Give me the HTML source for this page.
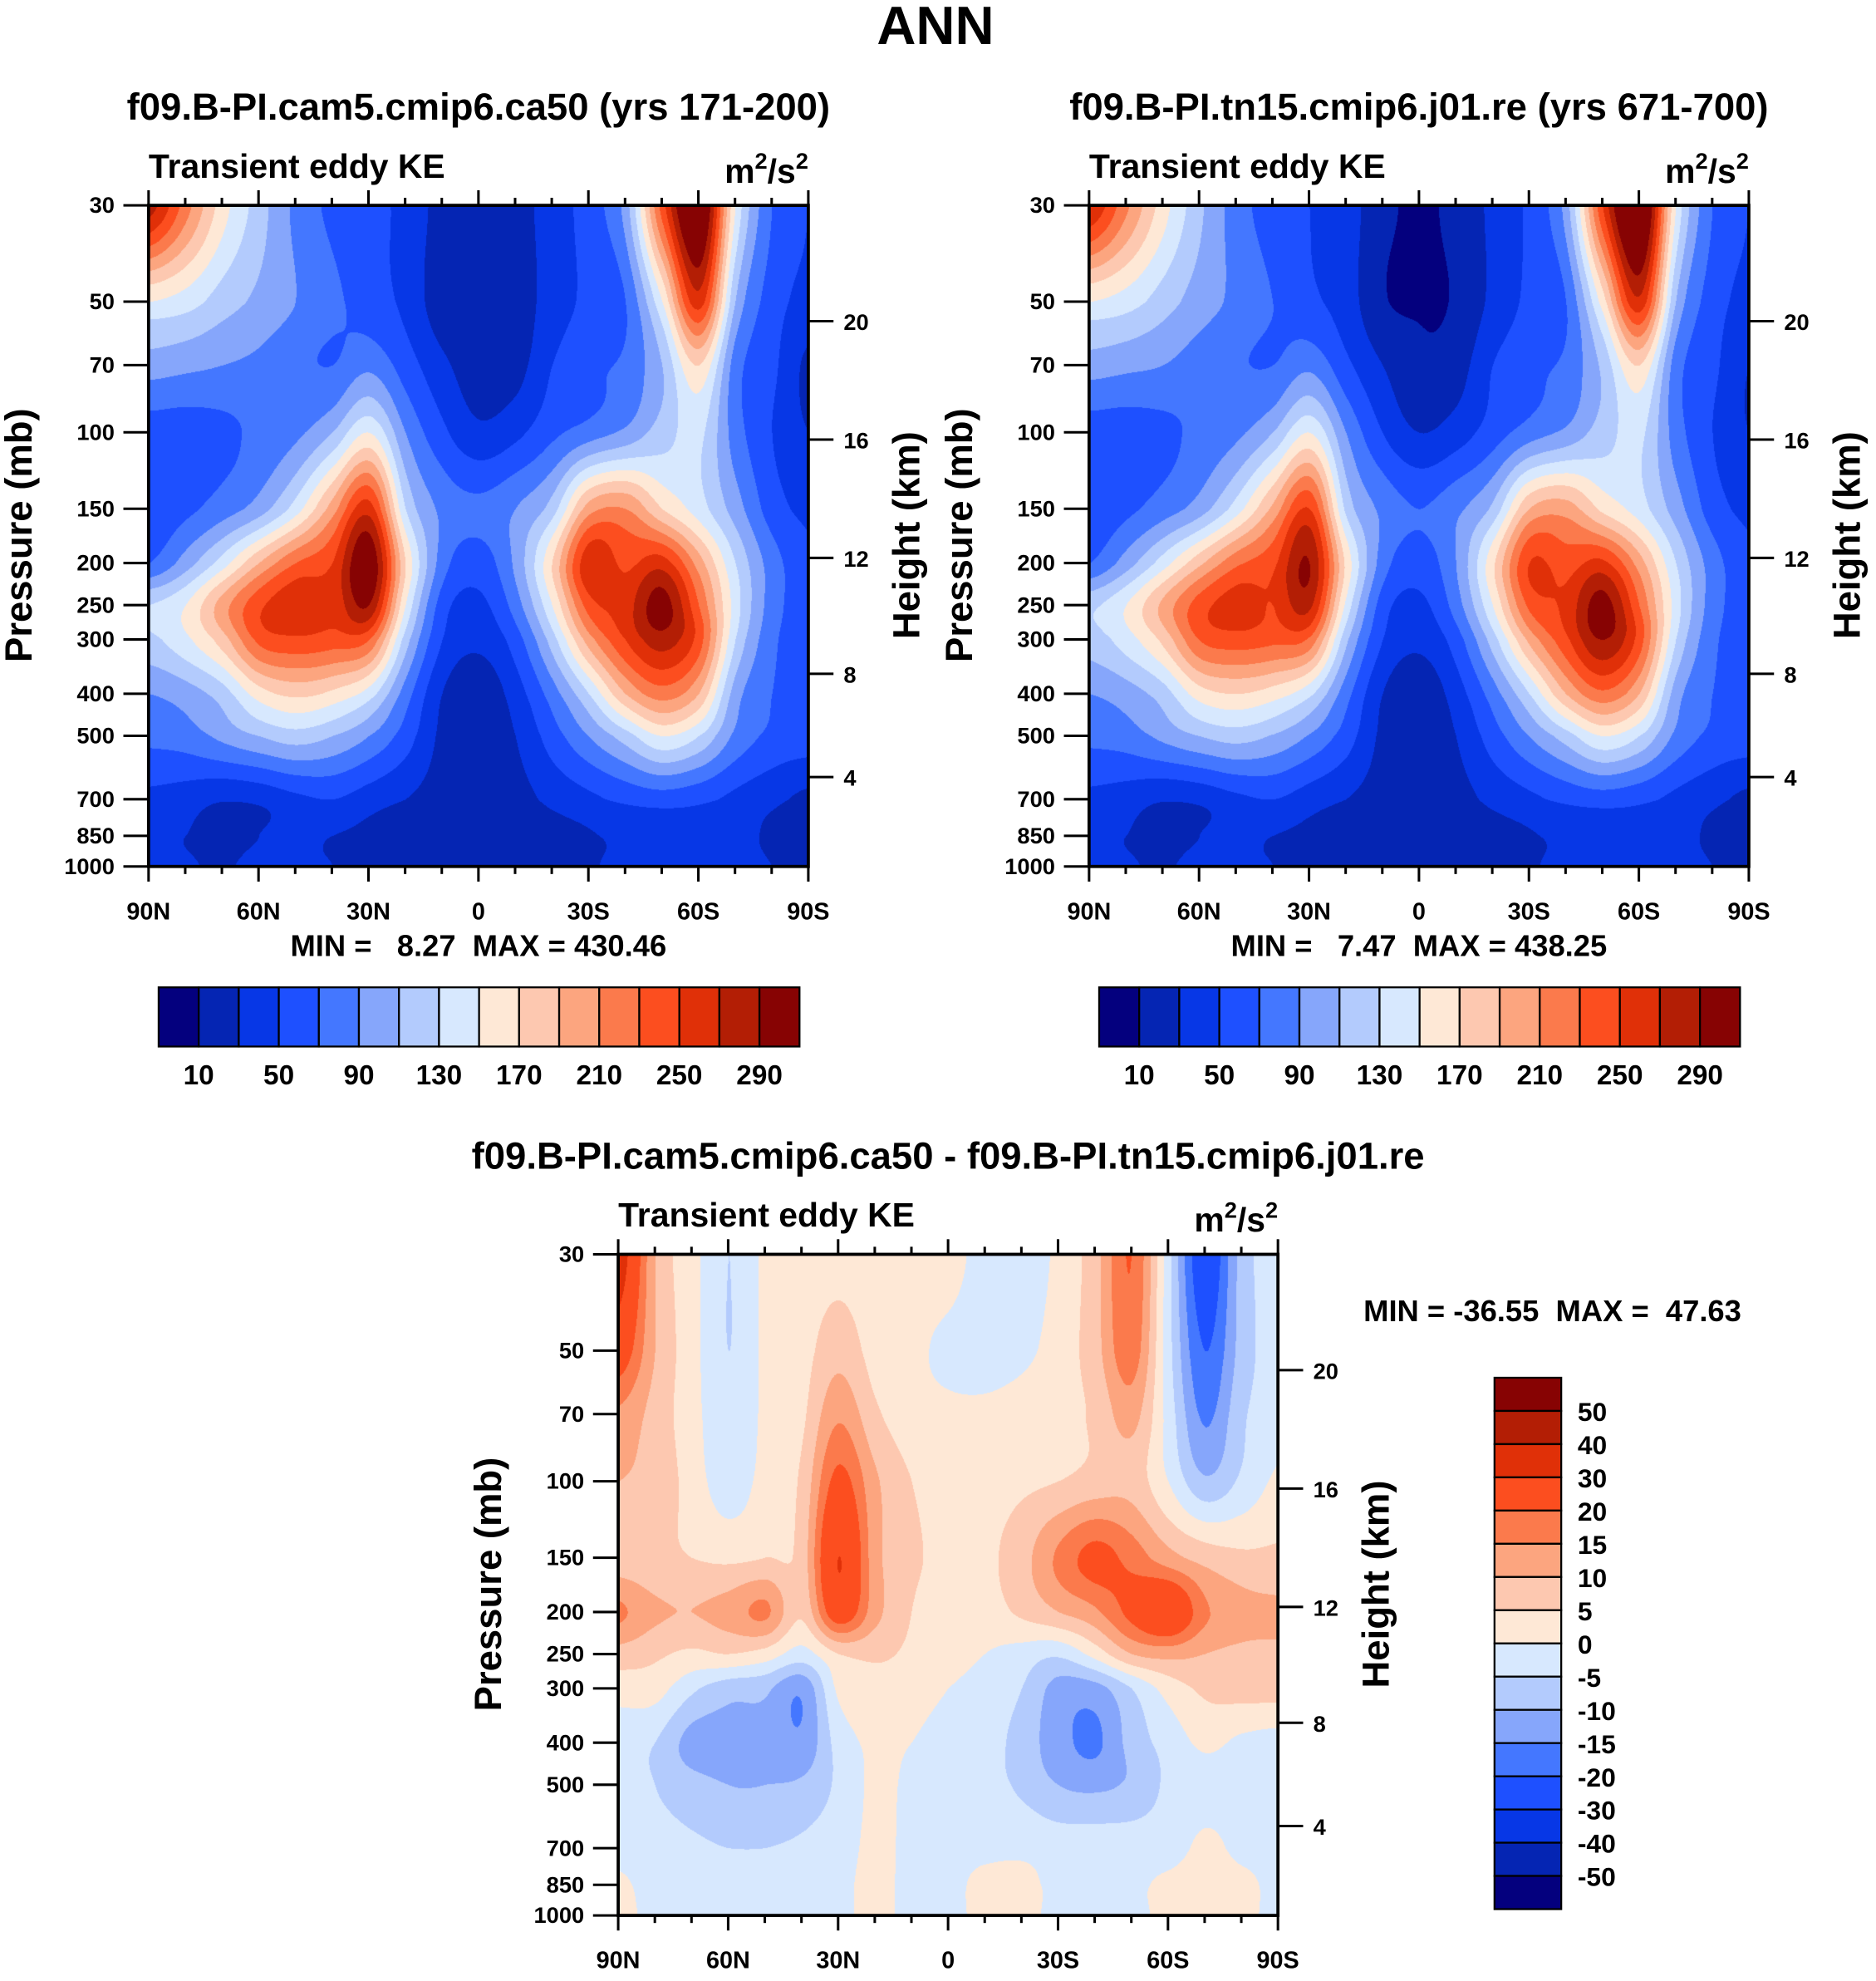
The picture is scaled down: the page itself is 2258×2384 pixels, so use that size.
<!DOCTYPE html>
<html><head><meta charset="utf-8">
<style>
html,body{margin:0;padding:0;background:#fff;}
#wrap{position:relative;width:2258px;height:2384px;overflow:hidden;}
canvas{position:absolute;}
svg{position:absolute;left:0;top:0;}
text{font-family:"Liberation Sans",Arial,sans-serif;font-weight:bold;fill:#000;white-space:pre;}
</style></head>
<body>
<div id="wrap">
<svg id="svg" width="2258" height="2384" viewBox="0 0 1490 1573"></svg>
</div>
<script>
const S = 2258/1490;
const lats = [90,80,70,60,50,40,30,20,10,0,-10,-20,-30,-40,-50,-60,-70,-80,-90];
const plevs = [30,50,70,100,150,200,250,300,400,500,700,850,1000];
const heightTicks = [20,16,12,8,4];
const heightOffsets = [92,186,280,372,454];
const colors = ["#04007e","#0525b3","#0737e6","#1e50ff","#4477ff","#86a6fb","#b3cbfd","#d7e8fe","#fee8d6","#fdc8b0","#fca57f","#fb7a4c","#fc4e1f","#e03008","#b31e05","#870303"];
const levelsA = [10,30,50,70,90,110,130,150,170,190,210,230,250,270,290];
const levelsD = [-50,-40,-30,-20,-15,-10,-5,0,5,10,15,20,30,40,50];
const cbLabelsA = ["10","50","90","130","170","210","250","290"];
const cbLabelsD = ["50","40","30","20","15","10","5","0","-5","-10","-15","-20","-30","-40","-50"];
const field1 = [
[280,220,160,120,85,65,55,45,22,18,22,40,60,100,240,330,150,70,50],
[150,140,120,105,90,75,60,45,18,14,18,40,55,70,150,260,110,60,45],
[100,95,90,85,75,70,85,60,35,18,22,50,65,75,110,170,80,55,25],
[60,60,65,75,85,110,150,90,55,35,45,65,80,95,120,135,80,50,30],
[55,65,80,100,140,200,260,130,85,75,90,120,200,210,170,140,100,60,45],
[70,100,140,190,230,250,310,170,80,60,95,170,265,245,260,200,130,80,55],
[130,150,200,245,265,255,290,150,60,45,80,150,240,260,300,230,140,80,60],
[125,145,180,235,245,240,230,120,50,35,60,120,200,250,280,240,130,75,60],
[90,100,120,160,175,165,140,80,30,15,40,80,130,190,220,190,100,70,60],
[75,80,95,110,120,110,90,60,25,12,30,60,90,120,150,130,85,65,60],
[45,40,32,35,45,50,40,30,20,15,22,35,45,55,60,55,45,35,25],
[35,30,25,30,35,30,25,15,12,12,15,22,28,35,40,45,40,25,20],
[35,32,28,35,32,30,22,15,12,12,15,22,28,35,40,42,40,30,20]];
const field2 = [
[270,215,160,115,80,60,50,40,15,8,15,35,55,100,250,340,150,70,50],
[150,140,120,100,85,70,55,40,12,9,12,35,55,70,160,265,110,60,45],
[100,95,90,80,72,70,85,55,30,14,20,50,65,75,115,170,80,55,30],
[60,60,65,75,85,110,150,90,50,30,40,60,80,95,120,135,80,50,30],
[55,65,80,100,140,195,250,125,85,70,85,115,190,200,165,140,100,60,45],
[70,100,140,185,225,245,290,165,80,60,90,165,250,240,255,200,130,80,55],
[125,150,195,240,260,250,275,145,60,45,80,150,235,255,300,230,140,80,60],
[120,140,175,230,240,235,225,115,50,35,60,120,195,245,290,240,130,75,60],
[90,100,120,160,170,160,135,78,30,15,40,80,130,190,225,190,100,70,60],
[75,80,95,110,118,108,88,60,25,12,30,60,90,120,150,130,85,65,60],
[45,40,32,35,45,50,40,30,20,15,22,35,45,55,60,55,45,35,25],
[35,30,25,30,35,30,25,15,12,12,15,22,28,35,40,45,40,25,20],
[35,32,28,35,32,30,22,15,12,12,15,22,28,35,40,42,40,30,20]];
const fieldD = [
[35,10,2,-5,1,2,3,2,2,2,-2,-2,1,8,20,-3,-25,-8,-2],
[25,10,2,-5,1,3,8,3,1,-1,-2,-1,2,8,18,-3,-20,-8,-2],
[14,8,2,-4,1,4,14,6,2,1,1,2,3,6,12,-2,-16,-6,-2],
[10,8,3,-3,2,6,22,11,5,3,3,4,5,7,8,0,-9,-4,1],
[7,6,5,4,5,7,30,12,6,4,4,8,16,22,18,12,8,6,6],
[16,11,10,12,16,6,25,12,5,3,3,6,10,14,22,28,16,12,11],
[8,6,4,5,3,-2,5,6,4,2,0,-2,-4,2,10,12,10,9,9],
[2,2,-4,-8,-9,-14,1,3,2,0,-2,-5,-12,-12,-5,2,6,7,7],
[-3,-5,-12,-12,-11,-14,-3,1,0,-2,-3,-7,-13,-16,-8,-3,1,-1,-2],
[-3,-5,-8,-10,-10,-9,-4,1,-1,-2,-3,-6,-10,-11,-9,-4,-2,-2,-2],
[-2,-3,-4,-5,-5,-4,-2,1,-1,-1,-1,-1,-2,-2,-2,-2,1,-1,-1],
[1,-2,-2,-2,-2,-2,-1,1,-1,-1,1,1,-1,-2,-1,1,2,1,-1],
[1,-1,-2,-2,-2,-2,-1,1,-1,-1,1,1,-1,-2,-1,1,2,1,-1]];

const NS="http://www.w3.org/2000/svg";
const svg=document.getElementById('svg');
const wrap=document.getElementById('wrap');
function el(tag,attrs,parent){const e=document.createElementNS(NS,tag);for(const k in attrs)e.setAttribute(k,attrs[k]);(parent||svg).appendChild(e);return e;}
function txt(x,y,s,size,anchor,parent,name){const t=el('text',{x:x,y:y,'font-size':size,'text-anchor':anchor||'start'},parent);t.textContent=s;


return t;}
const W=524,H=525;
function xOf(lat,x0){return x0+(90-lat)/180*W;}
function yOf(p,y0){return y0+Math.log(p/30)/Math.log(1000/30)*H;}
function cr(p0,p1,p2,p3,t){return 0.5*((2*p1)+(-p0+p2)*t+(2*p0-5*p1+4*p2-p3)*t*t+(-p0+3*p1-3*p2+p3)*t*t*t);}
function colorIdx(v,lv){let i=0;while(i<lv.length&&v>=lv[i])i++;return i;}
function drawField(field,levels,x0,y0,name){
  const cv=document.createElement('canvas');
  const cw=Math.round(W*S),ch=Math.round(H*S);
  cv.width=cw;cv.height=ch;
  cv.style.left=(x0*S)+'px';cv.style.top=(y0*S)+'px';
  
  
  wrap.insertBefore(cv,svg);
  const ctx=cv.getContext('2d');const img=ctx.createImageData(cw,ch);
  const ny=plevs.map(p=>(yOf(p,0)));const nx=lats.map(l=>xOf(l,0));
  const rgb=colors.map(c=>[parseInt(c.substr(1,2),16),parseInt(c.substr(3,2),16),parseInt(c.substr(5,2),16)]);
  const R=field.length,C=lats.length;
  const g=(r,c)=>field[Math.max(0,Math.min(R-1,r))][Math.max(0,Math.min(C-1,c))];
  for(let py=0;py<ch;py++){
    const yy=py/S;let r=0;while(r<R-2&&ny[r+1]<yy)r++;
    const ty=Math.max(0,Math.min(1,(yy-ny[r])/(ny[r+1]-ny[r])));
    for(let px=0;px<cw;px++){
      const xx=px/S;let c=Math.min(C-2,Math.floor(xx/(W/18)));
      const tx=Math.max(0,Math.min(1,(xx-nx[c])/(nx[c+1]-nx[c])));
      const rows=[];
      for(let k=-1;k<=2;k++)rows.push(cr(g(r+k,c-1),g(r+k,c),g(r+k,c+1),g(r+k,c+2),tx));
      const v=cr(rows[0],rows[1],rows[2],rows[3],ty);
      const col=rgb[colorIdx(v,levels)];const o=(py*cw+px)*4;
      img.data[o]=col[0];img.data[o+1]=col[1];img.data[o+2]=col[2];img.data[o+3]=255;
    }
  }
  ctx.putImageData(img,0,0);
}
function panel(x0,y0,field,levels,title,name,minmax){
  const g=el('g',{});
  
  
  drawField(field,levels,x0,y0,name+'-contours');
  txt(x0+W/2,y0-68,title,30,'middle',g,'panel-title');
  txt(x0,y0-22,'Transient eddy KE',27,'start',g,'variable-label');
  const u=txt(x0+W,y0-18,'',27,'end',g,'units-label');
  u.innerHTML='m<tspan dy="-11" font-size="18">2</tspan><tspan dy="11">/s</tspan><tspan dy="-11" font-size="18">2</tspan>';
  el('rect',{x:x0,y:y0,width:W,height:H,fill:'none',stroke:'#000','stroke-width':2.5},g);
  plevs.forEach(p=>{const y=yOf(p,y0);el('line',{x1:x0-20,y1:y,x2:x0,y2:y,stroke:'#000','stroke-width':2},g);txt(x0-27,y+6,String(p),18,'end',g,'pressure-tick-label');});
  heightTicks.forEach((h,i)=>{const y=y0+heightOffsets[i];el('line',{x1:x0+W,y1:y,x2:x0+W+20,y2:y,stroke:'#000','stroke-width':2},g);txt(x0+W+28,y+7,String(h),18,'start',g,'height-tick-label');});
  const xl=['90N','60N','30N','0','30S','60S','90S'];
  for(let lat=90;lat>=-90;lat-=10){const x=xOf(lat,x0);const maj=lat%30===0;const L=maj?12:6;
    el('line',{x1:x,y1:y0,x2:x,y2:y0-L,stroke:'#000','stroke-width':2},g);
    el('line',{x1:x,y1:y0+H,x2:x,y2:y0+H+L,stroke:'#000','stroke-width':2},g);}
  xl.forEach((s,i)=>txt(x0+i*W/6,y0+H+42,s,19,'middle',g,'lat-tick-label'));
  const t1=txt(0,0,'Pressure (mb)',30,'middle',g,'y-axis-title');t1.setAttribute('transform',`translate(${x0-93},${y0+262}) rotate(-90)`);
  const t2=txt(0,0,'Height (km)',30,'middle',g,'y2-axis-title');t2.setAttribute('transform',`translate(${x0+W+88},${y0+262}) rotate(-90)`);
  if(minmax)txt(x0+262,y0+H+71,minmax,24,'middle',g,'min-max-label');
}
txt(743,35,'ANN',43,'middle',null,'main-title');
panel(118,163,field1,levelsA,'f09.B-PI.cam5.cmip6.ca50 (yrs 171-200)','panel-test','MIN =   8.27  MAX = 430.46');
panel(865,163,field2,levelsA,'f09.B-PI.tn15.cmip6.j01.re (yrs 671-700)','panel-control','MIN =   7.47  MAX = 438.25');
panel(491,996,fieldD,levelsD,'f09.B-PI.cam5.cmip6.ca50 - f09.B-PI.tn15.cmip6.j01.re','panel-difference',null);
txt(1233,1049,'MIN = -36.55  MAX =  47.63',24,'middle',null,'diff-min-max-label');
function hbar(x0,y0,name){
  const g=el('g',{});
  const bw=509/16;
  colors.forEach((c,i)=>el('rect',{x:x0+i*bw,y:y0,width:bw,height:47,fill:c,stroke:'#000','stroke-width':1.5},g));
  cbLabelsA.forEach((s,i)=>txt(x0+(2*i+1)*bw,y0+77,s,22,'middle',g,'colorbar-label'));
}
hbar(126,784,'colorbar-test');hbar(873,784,'colorbar-control');
(function(){
  const g=el('g',{});
  const x0=1187,y0=1094,bh=422/16;
  for(let i=0;i<16;i++)el('rect',{x:x0,y:y0+i*bh,width:53,height:bh,fill:colors[15-i],stroke:'#000','stroke-width':1.5},g);
  cbLabelsD.forEach((s,i)=>txt(x0+66,y0+(i+1)*bh+8,s,21,'start',g,'colorbar-label'));
})();
</script>
</body></html>
